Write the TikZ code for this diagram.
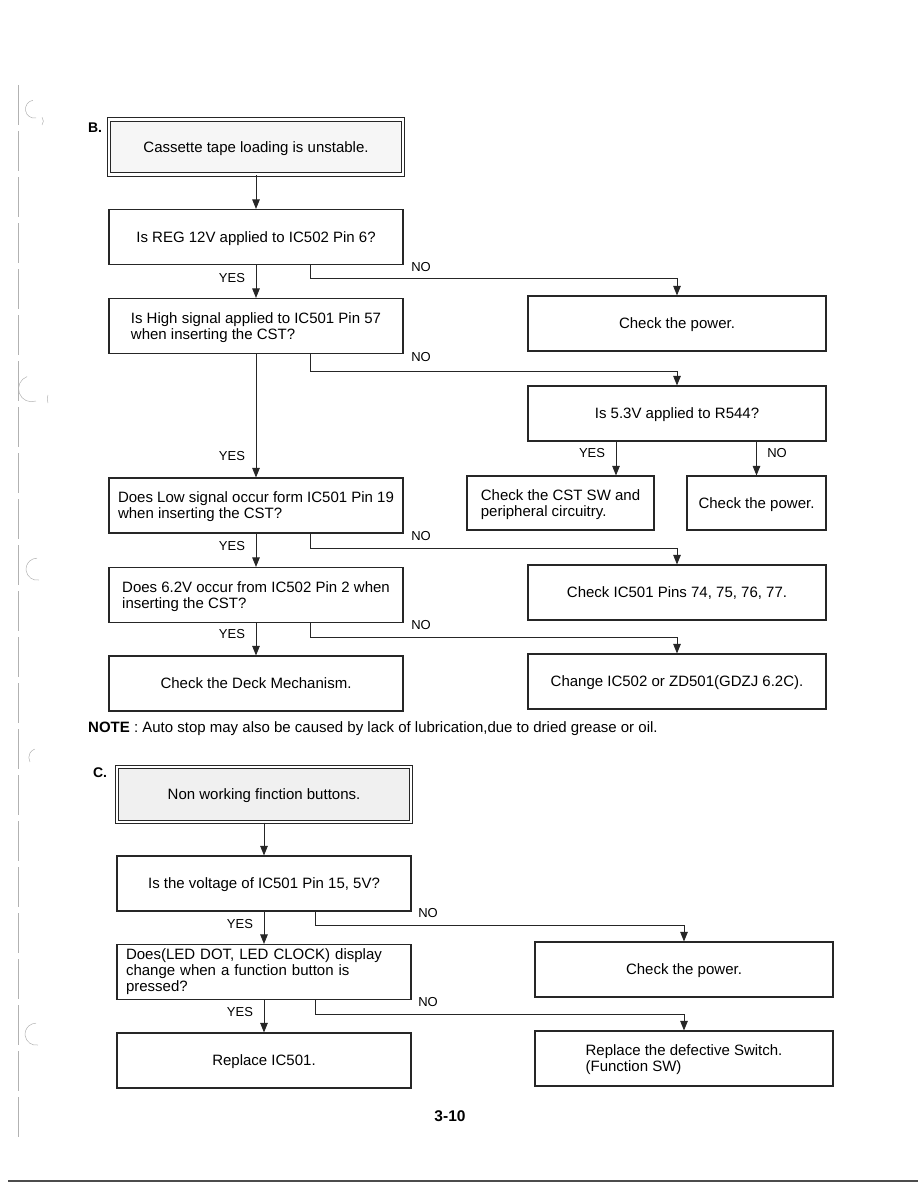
\documentclass[tikz,border=0pt]{standalone}
\usepackage{fontspec}
\setmainfont{Liberation Sans}
\usetikzlibrary{arrows.meta}
\begin{document}
\begin{tikzpicture}[x=1pt,y=-1pt,
  box/.style={draw=black!85, line width=1.1pt, minimum width=294pt, minimum height=55pt,
    inner sep=0pt, align=left, text depth=0pt, font=\fontsize{15}{16}\selectfont},
  rbox/.style={box, minimum width=298pt},
  tbox/.style={box, line width=1.1pt, double=white, double distance=2.6pt, fill=gray!7},
  arr/.style={draw=black!85, line width=0.9pt, -{Triangle[width=7.5pt,length=9.5pt]}},
  lbl/.style={font=\fontsize{13}{14}\selectfont, inner sep=0pt},
  sec/.style={font=\bfseries\fontsize{14}{16}\selectfont, inner sep=0pt},
  deco/.style={draw=gray!60, line width=0.5pt}
]
\useasboundingbox (0,0) rectangle (918,1188);

% page decorations
\draw[deco, dash pattern=on 40pt off 6pt] (18,85) -- (18,1140);
\draw[draw=black!70, line width=1.2pt] (8,1181) -- (918,1181);
\draw[deco] (36,118) arc (80:260:9);
\draw[deco] (42,125) arc (40:-40:6);
\draw[deco] (36,401) arc (70:250:13);
\draw[deco] (48,403) arc (160:200:12);
\draw[deco] (39,580) arc (80:270:11);
\draw[deco] (30,762) arc (150:250:9);
\draw[deco] (38,1045) arc (80:270:11);

% ---------- Section B ----------
\node[sec] (labB) at (95,128) {B.};
\node[tbox] (tB) at (256,147) {Cassette tape loading is unstable.};
\node[box] (b1) at (256,237) {Is REG 12V applied to IC502 Pin 6?};
\node[rbox] (pw1) at (677,323.5) {Check the power.};
\node[box] (b2) at (256,326) {Is High signal applied to IC501 Pin 57\\when inserting the CST?};
\node[rbox] (r544) at (677,413.5) {Is 5.3V applied to R544?};
\node[box, minimum width=187pt, minimum height=54pt] (cst) at (560.5,503) {Check the CST SW and\\peripheral circuitry.};
\node[box, minimum width=139pt, minimum height=54pt] (pw2) at (756.5,503) {Check the power.};
\node[box] (b3) at (256,505.5) {Does Low signal occur form IC501 Pin 19\\when inserting the CST?};
\node[rbox] (pins) at (677,592.5) {Check IC501 Pins 74, 75, 76, 77.};
\node[box] (b4) at (256,595) {Does 6.2V occur from IC502 Pin 2 when\\inserting the CST?};
\node[rbox] (chg) at (677,681.5) {Change IC502 or ZD501(GDZJ 6.2C).};
\node[box] (b5) at (256,683.5) {Check the Deck Mechanism.};

\coordinate (x616) at (616,0);

\draw[arr] (tB.south) -- (b1.north);
\draw[arr] (b1.south) -- (b2.north);
\draw[arr] ([xshift=54pt]b1.south) -- ++(0,13) -| (pw1.north);
\draw[arr] (b2.south) -- (b3.north);
\draw[arr] ([xshift=54pt]b2.south) -- ++(0,17) -| (r544.north);
\draw[arr] (r544.south -| x616) -- (cst.north -| x616);
\draw[arr] (r544.south -| pw2.north) -- (pw2.north);
\draw[arr] (b3.south) -- (b4.north);
\draw[arr] ([xshift=54pt]b3.south) -- ++(0,15) -| (pins.north);
\draw[arr] (b4.south) -- (b5.north);
\draw[arr] ([xshift=54pt]b4.south) -- ++(0,14) -| (chg.north);

\node[lbl] (y1) at (232,278) {YES};
\node[lbl] (n1) at (421,267) {NO};
\node[lbl] (y2) at (232,456) {YES};
\node[lbl] (n2) at (421,357) {NO};
\node[lbl] (y3) at (592,453) {YES};
\node[lbl] (n3) at (777,453) {NO};
\node[lbl] (y4) at (232,546) {YES};
\node[lbl] (n4) at (421,536) {NO};
\node[lbl] (y5) at (232,634) {YES};
\node[lbl] (n5) at (421,625) {NO};

\node[anchor=base west, inner sep=0pt, font=\fontsize{15}{16}\selectfont] (note) at (88,732)
  {\textbf{NOTE} : Auto stop may also be caused by lack of lubrication,due to dried grease or oil.};

% ---------- Section C ----------
\node[sec] (labC) at (100,773) {C.};
\node[tbox, fill=gray!12] (tC) at (264,794.5) {Non working finction buttons.};
\node[box] (c1) at (264,883.5) {Is the voltage of IC501 Pin 15, 5V?};
\node[rbox] (pw3) at (684,969.5) {Check the power.};
\node[box, text depth=, text width=276pt, inner xsep=9pt] (c2) at (264,972) {Does(LED DOT, LED CLOCK) display\\change when a function button is\\pressed?};
\node[rbox] (sw) at (684,1058.5) {Replace the defective Switch.\\(Function SW)};
\node[box] (c3) at (264,1060.5) {Replace IC501.};

\draw[arr] (tC.south) -- (c1.north);
\draw[arr] (c1.south) -- (c2.north);
\draw[arr] ([xshift=51pt]c1.south) -- ++(0,14) -| (pw3.north);
\draw[arr] (c2.south) -- (c3.north);
\draw[arr] ([xshift=51pt]c2.south) -- ++(0,14) -| (sw.north);

\node[lbl] (y6) at (240,924) {YES};
\node[lbl] (n6) at (428,913) {NO};
\node[lbl] (y7) at (240,1012) {YES};
\node[lbl] (n7) at (428,1002) {NO};

\node[sec, font=\bfseries\fontsize{15.5}{17}\selectfont] (page) at (450,1116) {3-10};
\end{tikzpicture}
\end{document}
